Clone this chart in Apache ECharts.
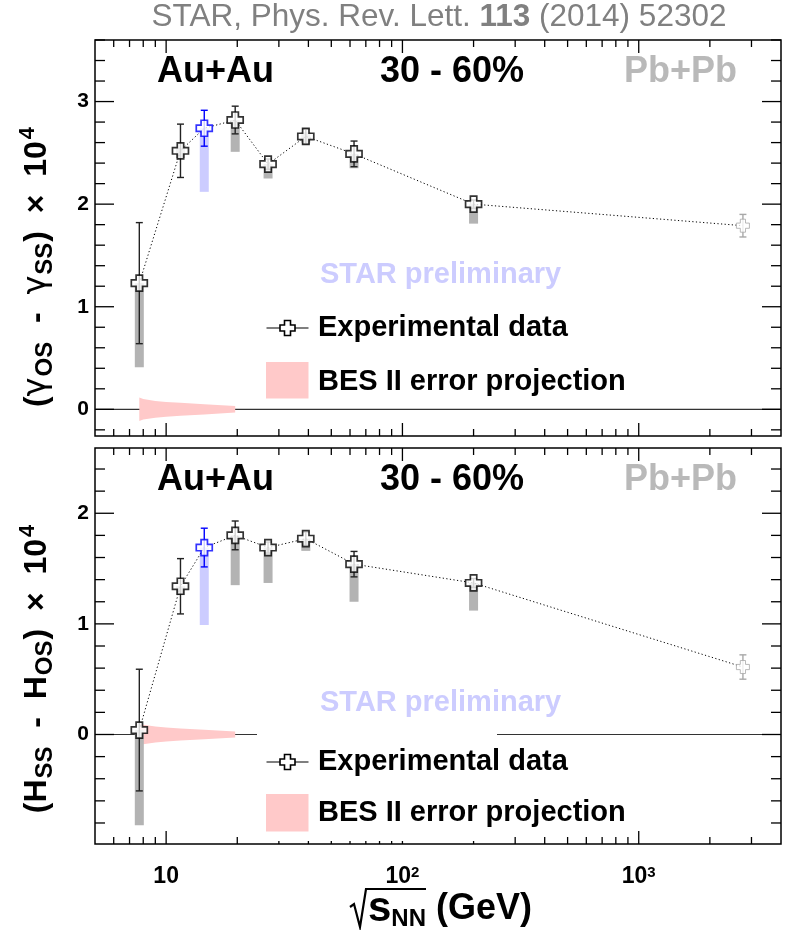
<!DOCTYPE html>
<html>
<head>
<meta charset="utf-8">
<script src="https://cdn.jsdelivr.net/npm/echarts@6/dist/echarts.min.js"></script>
<style>
  html, body { margin: 0; padding: 0; background: #fff; }
  #chart { width: 789px; height: 930px; }
</style>
</head>
<body>
<div id="chart"></div>
<script>
// Collision energies sqrt(s_NN) in GeV
const energies = [7.7, 11.5, 14.5, 19.6, 27, 39, 62.4, 200, 2760];
const systems = ['Au+Au', 'Au+Au', 'Au+Au', 'Au+Au', 'Au+Au', 'Au+Au', 'Au+Au', 'Au+Au', 'Pb+Pb'];
const preliminary = [false, false, true, false, false, false, false, false, false];

// Upper panel: (gamma_OS - gamma_SS) x 10^4
const gammaValues = [1.23, 2.52, 2.74, 2.82, 2.39, 2.66, 2.49, 2.00, 1.79];
const gammaStat = [0.59, 0.26, 0.175, 0.135, 0.05, 0.07, 0.125, 0.04, 0.11];
const gammaSysLow = [0.41, 2.45, 2.12, 2.51, 2.25, 2.60, 2.35, 1.81, null];
const gammaSysHigh = [1.23, 2.55, 2.74, 2.82, 2.39, 2.70, 2.49, 2.00, null];

// Lower panel: (H_SS - H_OS) x 10^4
const hValues = [0.04, 1.34, 1.69, 1.80, 1.69, 1.77, 1.54, 1.37, 0.61];
const hStat = [0.55, 0.25, 0.175, 0.13, 0.05, 0.06, 0.115, 0.04, 0.11];
const hSysLow = [-0.82, 1.26, 0.99, 1.35, 1.37, 1.66, 1.20, 1.12, null];
const hSysHigh = [0.04, 1.34, 1.69, 1.80, 1.69, 1.77, 1.54, 1.37, null];

// Projected BES II uncertainty (half width) around zero
const besEnergies = [7.7, 8.0, 9.0, 10, 11.5, 14.5, 19.6];
const besGammaHalf = [0.115, 0.10, 0.082, 0.072, 0.063, 0.05, 0.032];
const besHHalf = [0.10, 0.088, 0.072, 0.064, 0.055, 0.043, 0.028];

// Axis ticks and labels
const xMajorTicks = [10, 100, 1000];
const xLabels = ['10', '10{sup|2}', '10{sup|3}'];
const yTopLabels = [0, 1, 2, 3];
const yBottomLabels = [0, 1, 2];

const X_MIN = 5, X_MAX = 4000;
const Y_TOP = [-0.26, 3.6];
const Y_BOT = [-0.99, 2.59];

const FONT = 'Liberation Sans, Arial, Helvetica, sans-serif';

function pointColor(i) {
  if (systems[i] === 'Pb+Pb') return '#a8a8a8';
  if (preliminary[i]) return '#0000ff';
  return '#000000';
}
function boxColor(i) {
  return preliminary[i] ? '#ccccff' : '#b3b3b3';
}

// minor ticks: 2..9 in each decade, strictly inside the frame
const xMinorTicks = [];
[1, 10, 100, 1000].forEach(d => {
  for (let m = 2; m <= 9; m++) {
    const v = m * d;
    if (v > X_MIN && v < X_MAX) xMinorTicks.push(v);
  }
});
function yMinor(range) {
  const out = [];
  for (let k = Math.ceil(range[0] * 5); k <= Math.floor(range[1] * 5); k++) {
    if (k % 5 !== 0) out.push(k / 5);
  }
  return out;
}

const crossPath = 'path://M3,0 H7 V3 H10 V7 H7 V10 H3 V7 H0 V3 H3 Z';

function tickSeries(gi, yr, yMajors) {
  const data = [];
  xMajorTicks.forEach(v => data.push([v, yr[0], 1, 0]));
  xMinorTicks.forEach(v => data.push([v, yr[0], 0, 0]));
  yMajors.forEach(v => data.push([X_MIN, v, 1, 1]));
  yMinor(yr).forEach(v => data.push([X_MIN, v, 0, 1]));
  return {
    type: 'custom', xAxisIndex: gi, yAxisIndex: gi, z: 8, silent: true,
    encode: { x: 0, y: 1 },
    data: data,
    renderItem: function (params, api) {
      const cs = params.coordSys;
      const major = api.value(2) === 1;
      const dim = api.value(3);
      const p = api.coord([api.value(0), api.value(1)]);
      const st = { stroke: '#000', lineWidth: 1.3 };
      if (dim === 0) {
        const len = major ? 13 : 7;
        const b = cs.y + cs.height, t = cs.y;
        return { type: 'group', children: [
          { type: 'line', shape: { x1: p[0], y1: b, x2: p[0], y2: b - len }, style: st },
          { type: 'line', shape: { x1: p[0], y1: t, x2: p[0], y2: t + len }, style: st }
        ]};
      }
      const len = major ? 19 : 10;
      const l = cs.x, r = cs.x + cs.width;
      return { type: 'group', children: [
        { type: 'line', shape: { x1: l, y1: p[1], x2: l + len, y2: p[1] }, style: st },
        { type: 'line', shape: { x1: r, y1: p[1], x2: r - len, y2: p[1] }, style: st }
      ]};
    }
  };
}

function panelSeries(gi, yr, values, stat, sysLow, sysHigh, bandHalf) {
  const list = [];
  // zero line
  list.push({
    type: 'line', xAxisIndex: gi, yAxisIndex: gi, z: 1, silent: true,
    data: [[X_MIN, 0], [X_MAX, 0]], symbol: 'none',
    lineStyle: { color: '#333', width: 1.2 }
  });
  // projected uncertainty band
  list.push({
    type: 'custom', xAxisIndex: gi, yAxisIndex: gi, z: 2, silent: true,
    encode: { x: 0, y: 1 },
    data: besEnergies.map((e, i) => [e, bandHalf[i]]),
    renderItem: function (params, api) {
      if (params.dataIndex !== 0) return null;
      const upper = besEnergies.map((e, i) => api.coord([e, bandHalf[i]]));
      const lower = besEnergies.map((e, i) => api.coord([e, -bandHalf[i]])).reverse();
      return { type: 'polygon', shape: { points: upper.concat(lower) },
        style: { fill: '#ffc9c9', stroke: null } };
    }
  });
  // systematic boxes
  list.push({
    type: 'custom', xAxisIndex: gi, yAxisIndex: gi, z: 3, silent: true,
    encode: { x: 0, y: [1, 2] },
    data: energies.map((e, i) => sysLow[i] == null ? null : [e, sysLow[i], sysHigh[i], i]).filter(d => d),
    renderItem: function (params, api) {
      const i = api.value(3);
      const a = api.coord([api.value(0), api.value(1)]);
      const b = api.coord([api.value(0), api.value(2)]);
      const w = 9;
      return { type: 'rect', shape: { x: a[0] - w / 2, y: b[1], width: w, height: a[1] - b[1] },
        style: { fill: boxColor(i) } };
    }
  });
  // connecting dotted line
  list.push({
    type: 'line', xAxisIndex: gi, yAxisIndex: gi, z: 4, silent: true,
    data: energies.map((e, i) => [e, values[i]]), symbol: 'none',
    lineStyle: { color: '#000', width: 1, type: [1.2, 2.4] }
  });
  // statistical error bars
  list.push({
    type: 'custom', xAxisIndex: gi, yAxisIndex: gi, z: 5, silent: true,
    encode: { x: 0, y: [1, 2] },
    data: energies.map((e, i) => [e, values[i] - stat[i], values[i] + stat[i], i]),
    renderItem: function (params, api) {
      const i = api.value(3);
      const lo = api.coord([api.value(0), api.value(1)]);
      const hi = api.coord([api.value(0), api.value(2)]);
      const c = pointColor(i) === '#000000' ? '#222' : pointColor(i);
      const st = { stroke: c, lineWidth: 1.4 };
      const cap = 3.5;
      return { type: 'group', children: [
        { type: 'line', shape: { x1: lo[0], y1: lo[1], x2: hi[0], y2: hi[1] }, style: st },
        { type: 'line', shape: { x1: lo[0] - cap, y1: lo[1], x2: lo[0] + cap, y2: lo[1] }, style: st },
        { type: 'line', shape: { x1: hi[0] - cap, y1: hi[1], x2: hi[0] + cap, y2: hi[1] }, style: st }
      ]};
    }
  });
  // markers
  list.push({
    type: 'scatter', xAxisIndex: gi, yAxisIndex: gi, z: 6, silent: true,
    symbol: crossPath,
    data: energies.map((e, i) => ({
      value: [e, values[i]],
      symbolSize: systems[i] === 'Pb+Pb' ? 13 : 16,
      itemStyle: { color: '#fff', borderColor: pointColor(i),
        borderWidth: systems[i] === 'Pb+Pb' ? 1 : 1.7 }
    }))
  });
  list.push(tickSeries(gi, yr, gi === 0 ? yTopLabels : yBottomLabels));
  return list;
}

function crossPoints(cx, cy, s) {
  const u = s / 10;
  const pts = [[3,0],[7,0],[7,3],[10,3],[10,7],[7,7],[7,10],[3,10],[3,7],[0,7],[0,3],[3,3]];
  return pts.map(p => [cx - s / 2 + p[0] * u, cy - s / 2 + p[1] * u]);
}

function panelTexts(top) {
  const dy = top - 40;
  const bold36 = { fontFamily: FONT, fontWeight: 'bold', fontSize: 36, verticalAlign: 'middle' };
  return [
    { type: 'text', x: 157, y: 72.5 + dy, z: 20, style: Object.assign({ text: 'Au+Au', fill: '#000' }, bold36) },
    { type: 'text', x: 380, y: 72.5 + dy, z: 20, style: Object.assign({ text: '30 - 60%', fill: '#000' }, bold36) },
    { type: 'text', x: 624, y: 72.5 + dy, z: 20, style: Object.assign({ text: 'Pb+Pb', fill: '#b9b9b9' }, bold36) }
  ];
}

const chart = echarts.init(document.getElementById('chart'), null, { renderer: 'canvas' });

const axisLabelStyle = { fontFamily: FONT, fontWeight: 'bold', fontSize: 21, color: '#000' };

const legendBlocks = [
  { lineY: 328, boxY: 362, boxH: 36.5, text2Y: 381.5, cover: false },
  { lineY: 762, boxY: 794, boxH: 37.5, text2Y: 813, cover: true }
];

const graphics = [];
// journal reference line
graphics.push({
  type: 'text', x: 439, y: 17, z: 20,
  style: {
    text: '{n|STAR, Phys. Rev. Lett. }{b|113}{n| (2014) 52302}',
    align: 'center', verticalAlign: 'middle',
    rich: {
      n: { fontFamily: FONT, fontSize: 31.5, fill: '#808080', color: '#808080' },
      b: { fontFamily: FONT, fontSize: 31.5, fontWeight: 'bold', fill: '#808080', color: '#808080' }
    }
  }
});
[40, 448].forEach(t => panelTexts(t).forEach(e => graphics.push(e)));
[275, 703].forEach(y => graphics.push({
  type: 'text', x: 320, y: y, z: 20,
  style: { text: 'STAR preliminary', fontFamily: FONT, fontWeight: 'bold', fontSize: 29,
    fill: '#ccccff', verticalAlign: 'middle' }
}));
legendBlocks.forEach(L => {
  if (L.cover) {
    graphics.push({ type: 'rect', z: 15, shape: { x: 257, y: 729, width: 240, height: 112 },
      style: { fill: '#fff' } });
  }
  graphics.push({ type: 'line', z: 16, shape: { x1: 266.5, y1: L.lineY, x2: 308.5, y2: L.lineY },
    style: { stroke: '#000', lineWidth: 1.2 } });
  graphics.push({ type: 'polygon', z: 17, shape: { points: crossPoints(287.5, L.lineY, 15) },
    style: { fill: '#fff', stroke: '#000', lineWidth: 1.6 } });
  graphics.push({ type: 'text', x: 318, y: L.lineY, z: 17,
    style: { text: 'Experimental data', fontFamily: FONT, fontWeight: 'bold', fontSize: 29,
      fill: '#000', verticalAlign: 'middle' } });
  graphics.push({ type: 'rect', z: 16, shape: { x: 266, y: L.boxY, width: 42.5, height: L.boxH },
    style: { fill: '#ffc9c9' } });
  graphics.push({ type: 'text', x: 318, y: L.text2Y, z: 17,
    style: { text: 'BES II error projection', fontFamily: FONT, fontWeight: 'bold', fontSize: 29,
      fill: '#000', verticalAlign: 'middle' } });
});

// rotated axis titles
const titleRich = {
  n: { fontFamily: FONT, fontWeight: 'bold', fontSize: 32, lineHeight: 40, fill: '#000' },
  g: { fontFamily: 'DejaVu Sans, sans-serif', fontSize: 32, lineHeight: 40, fill: '#000' },
  sub: { fontFamily: FONT, fontWeight: 'bold', fontSize: 24, lineHeight: 26, verticalAlign: 'bottom', fill: '#000', padding: [0, 1, 0, 1] },
  sup: { fontFamily: FONT, fontWeight: 'bold', fontSize: 22, lineHeight: 22, verticalAlign: 'top', fill: '#000', padding: [0, 0, 0, 2] }
};
graphics.push({
  type: 'text', x: 37, y: 267, rotation: Math.PI / 2, z: 20,
  style: { text: '{n|(}{g|γ}{sub|OS}{n|  -  }{g|γ}{sub|SS}{n|)  ×  10}{sup|4}', rich: titleRich,
    align: 'center', verticalAlign: 'middle' }
});
graphics.push({
  type: 'text', x: 37, y: 669, rotation: Math.PI / 2, z: 20,
  style: { text: '{n|(H}{sub|SS}{n|  -  H}{sub|OS}{n|)  ×  10}{sup|4}', rich: titleRich,
    align: 'center', verticalAlign: 'middle' }
});
// x axis title: radical sign drawn as a stroke, then the text
graphics.push({
  type: 'polyline', z: 20,
  shape: { points: [[350, 907], [354, 904], [360, 927], [366, 889], [426, 889]] },
  style: { stroke: '#000', lineWidth: 2.2, fill: null }
});
graphics.push({
  type: 'text', x: 368, y: 909, z: 20,
  style: {
    text: '{s|s}{sub|NN}{n| (GeV)}', align: 'left', verticalAlign: 'middle',
    rich: {
      s: { fontFamily: FONT, fontWeight: 'bold', fontSize: 42, lineHeight: 44, fill: '#000' },
      sub: { fontFamily: FONT, fontWeight: 'bold', fontSize: 24, lineHeight: 24, verticalAlign: 'bottom', fill: '#000' },
      n: { fontFamily: FONT, fontWeight: 'bold', fontSize: 36, lineHeight: 44, fill: '#000' }
    }
  }
});

const option = {
  backgroundColor: '#fff',
  animation: false,
  grid: [
    { left: 95, top: 40, width: 686, height: 396, show: true, borderColor: '#000', borderWidth: 1.5, backgroundColor: 'transparent' },
    { left: 95, top: 448, width: 686, height: 396, show: true, borderColor: '#000', borderWidth: 1.5, backgroundColor: 'transparent' }
  ],
  xAxis: [0, 1].map(gi => ({
    type: 'log', logBase: 10, gridIndex: gi, min: X_MIN, max: X_MAX,
    axisLine: { show: false }, axisTick: { show: false }, splitLine: { show: false },
    axisLabel: gi === 0 ? { show: false } : Object.assign({}, axisLabelStyle, {
      show: true, margin: 21, customValues: xMajorTicks, fontSize: 23,
      formatter: v => xLabels[xMajorTicks.indexOf(Math.round(v))] || '',
      rich: { sup: { fontFamily: FONT, fontWeight: 'bold', fontSize: 15, verticalAlign: 'top', lineHeight: 15, padding: [0, 0, 6, 0] } }
    })
  })),
  yAxis: [0, 1].map(gi => ({
    type: 'value', gridIndex: gi, min: gi === 0 ? Y_TOP[0] : Y_BOT[0], max: gi === 0 ? Y_TOP[1] : Y_BOT[1],
    axisLine: { show: false }, axisTick: { show: false }, splitLine: { show: false },
    axisLabel: Object.assign({ show: true, margin: 6, customValues: gi === 0 ? yTopLabels : yBottomLabels }, axisLabelStyle)
  })),
  series: panelSeries(0, Y_TOP, gammaValues, gammaStat, gammaSysLow, gammaSysHigh, besGammaHalf)
    .concat(panelSeries(1, Y_BOT, hValues, hStat, hSysLow, hSysHigh, besHHalf)),
  graphic: { elements: graphics }
};
chart.setOption(option);
</script>
</body>
</html>
